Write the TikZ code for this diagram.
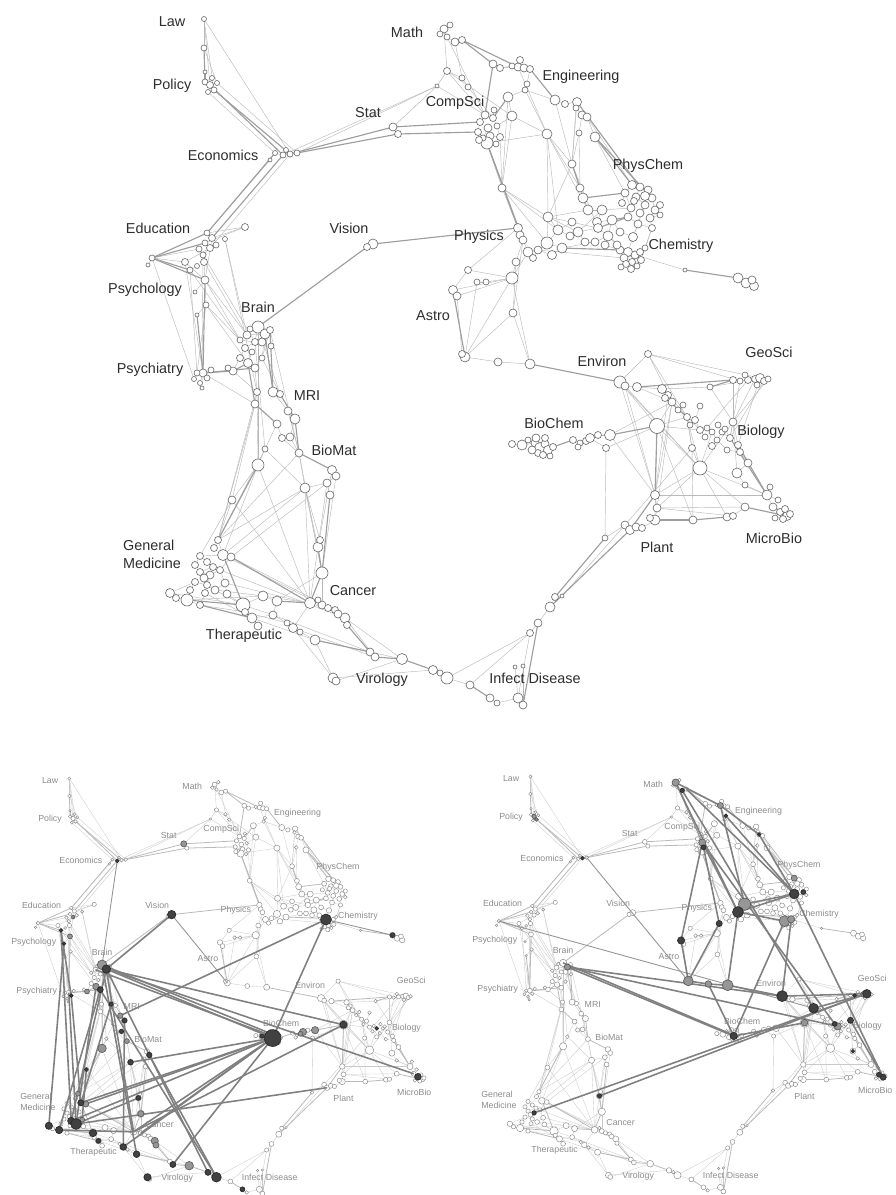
\documentclass[tikz,border=0pt]{standalone}
\usepackage{fontspec}
\setmainfont{Liberation Sans}
\usepackage{xcolor}
\definecolor{linkgray}{RGB}{185,185,185}
\definecolor{bundlegray}{RGB}{158,158,158}
\definecolor{dotgray}{RGB}{105,105,105}
\definecolor{labelgray}{RGB}{45,45,45}
\definecolor{hotgray}{RGB}{65,65,65}
\definecolor{warmgray}{RGB}{150,150,150}
\definecolor{hotlinkgray}{RGB}{128,128,128}

\tikzset{
  lnk/.style={linkgray, line width=0.25pt},
  bnd/.style={bundlegray, line width=0.65pt},
  dot/.style={draw=dotgray, fill=white, line width=0.35pt},
  lbl/.style={text=labelgray, inner sep=0pt, align=left, font=\fontsize{8.2}{10.2}\selectfont},
  hotlnk/.style={hotlinkgray, line width=0.9pt},
  warmlnk/.style={linkgray!80!black, line width=0.5pt},
  hot/.style={draw=black!85, fill=hotgray, line width=0.35pt},
  warm/.style={draw=black!65, fill=warmgray, line width=0.35pt}
}

% nodes of the map: name/x/y/radius (pixels of the upper map)
\newcommand{\nodelist}{%
  law1/204/19/2.5, law2/204/48/3, law3/205/72/2, pol1/205/82/3, pol2/210/85/3.5, pol3/214/90/3, pol4/208/92/2.5, pol5/217/83/2.5,
  pol6/212/78/2.5,
  eco1/275/153/2.5, eco2/283/155/3, eco3/290/154/3, eco4/297/153/3, eco5/270/160/2, eco6/286/150/2.5,
  sta1/393/127/4, sta2/398/134/3.5,
  mat1/444/29/4, mat2/447/37/3, mat3/455/42/4, mat4/462/40/3.5, mat5/447/71/3.5, mat6/437/86/2, mat7/462/78/3, mat8/468/87/3,
  mat9/440/34/3, mat10/450/25/3,
  eng1/493/64/4, eng2/500/68/3.5, eng3/518/67/4, eng4/524/68/4, eng5/530/69/3.5, eng6/527/84/3, eng7/525/90/3, eng8/508/97/5,
  eng9/512/116/5, eng10/555/100/5, eng11/565/104/3.5, eng12/577/102/4.5, eng13/576/108/3, eng14/582/115/4, eng15/587/117/4,
  eng16/595/137/5, eng17/579/133/3, eng18/520/60/3.5, eng19/512/66/3,
  cs1/485/115/4, cs2/493/118/3.5, cs3/480/122/3.5, cs4/488/128/4, cs5/497/126/3, cs6/478/132/3.5, cs7/490/136/4, cs8/500/137/3.5,
  cs9/487/143/6, cs10/483/138/3, cs11/494/110/3, cs12/479/140/3.5, cs13/496/144/3,
  mid1/547/134/5, mid2/572/164/4, mid3/502/188/4, mid4/548/217/5,
  pc1/580/188/4, pc2/583/198/5, pc3/632/185/4.5, pc4/640/187/4, pc5/648/190/4, pc6/625/193/4, pc7/636/197/4, pc8/652/198/4,
  pc9/645/205/4, pc10/631/208/4, pc11/655/210/4, pc12/640/213/4, pc13/628/217/4, pc14/650/218/4, pc15/638/224/4, pc16/652/228/3.5,
  pc17/588/210/5, pc18/602/210/5, pc19/597/222/4.5, pc20/612/220/5, pc21/620/232/4,
  pc23/660/205/3.5, pc24/645/196/4.5, pc25/634/201/3.5, pc26/622/203/3.5, pc27/660/215/3,
  ph1/518/228/4.5, ph2/520/235/4, ph3/523/240/4, ph4/547/243/6, ph5/558/230/5, ph6/570/236/4, ph7/562/248/5, ph8/578/232/5,
  ph9/598/228/4.5, ph10/608/236/5, ph11/595/242/4, ph12/528/252/5, ph13/538/250/4, ph14/533/258/3.5, ph15/512/278/6, ph16/516/262/4,
  ph17/585/242/4, ph18/605/245/4, ph19/552/255/4.5, ph20/572/222/4,
  ch1/620/250/4, ch2/628/252/4.5, ch3/635/255/4, ch4/624/258/4, ch5/632/262/3.5, ch6/640/252/3.5, ch7/637/266/3, ch8/645/248/3,
  ch9/633/237/4.5, ch10/617/245/4, ch11/626/264/3.5, ch12/641/260/3.5, ch13/621/267/3, ch14/631/269/3.5,
  chx/685/270/2, chf1/738/278/5, chf2/746/283/5, chf3/754/286/4.5, chf4/752/280/4,
  ast1/453/290/4.5, ast2/457/296/4, ast3/477/282/3, ast4/486/282/3, ast5/468/270/3.5, ast6/513/313/4, ast7/465/357/5,
  ast8/462/354/3.5, ast9/498/362/4, ast10/530/364/5,
  vis1/373/244/5, vis2/367/247/3.5,
  edu1/207/233/3, edu2/212/238/3.5, edu3/205/243/3, edu4/210/248/3.5, edu5/245/227/3.5, edu6/225/239/2.5, edu7/203/255/3, edu8/204/262/3.5,
  edu9/199/249/3, edu10/216/245/3,
  psy1/152/258/3, psy2/148/265/2, psy3/185/262/3.5, psy4/190/270/3, psy5/197/266/2.5, psy6/205/280/4, psy7/195/292/2, psy8/206/305/3, psy9/197/315/2,
  br1/258/327/6, br2/265/334/5, br3/270/330/3.5, br4/247/335/4, br5/240/340/3, br6/255/342/3.5, br7/245/348/3.5, br8/252/352/3,
  br9/248/363/4.5, br10/255/368/4, br11/262/358/3, br12/262/342/4, br13/250/329/3, br14/240/358/3.5, br15/271/346/3,
  pst1/203/373/4, pst2/197/373/3, pst3/207/378/3, pst4/200/383/2.5, pst5/233/371/4, pst6/228/368/3, pst7/202/388/2,
  pst8/211/370/3, pst9/194/379/2.5,
  mri1/273/392/5, mri2/280/394/3.5, mri3/257/392/3.5, mri4/255/404/4, mri5/288/411/4, mri6/295/419/5, mri7/277/424/4, mri8/290/437/4, mri9/282/438/3.5,
  bm1/299/453/4, bm2/265/449/3, bm3/258/465/6, bm4/332/470/4.5, bm5/336/476/4, bm6/327/483/4, bm7/330/495/4, bm8/305/488/5,
  bm9/232/500/4, bm10/318/547/5, bm11/320/540/3.5, bm12/322/573/6,
  gm1/218/540/3.5, gm2/223/555/5.5, gm3/231/557/4, gm4/200/556/3.5, gm5/207/562/3.5, gm6/213/567/3.5, gm7/200/572/3.5, gm8/210/575/4,
  gm9/220/570/3.5, gm10/195/582/3.5, gm11/207/585/3.5, gm12/215/590/4, gm13/225/583/4, gm14/205/593/3.5, gm15/170/593/4.5,
  gm16/176/598/3.5, gm17/187/600/6, gm18/200/605/3.5, gm19/195/565/3.5, gm20/214/548/3.5, gm21/204/578/4, gm22/190/590/3.5, gm23/227/594/4,
  th1/243/605/7, th2/263/596/5, th3/277/601/5, th4/252/618/5, th5/273/615/4, th6/293/628/4.5, th7/315/640/5, th8/287/623/3, th9/245/612/3.5,
  th10/258/626/4, th11/300/632/3,
  ca1/310/603/5.5, ca2/322/605/4, ca3/328/608/3.5, ca4/335/610/3.5, ca5/345/618/5, ca6/347/625/3.5, ca7/338/614/4, ca8/318/600/3,
  vir1/370/652/4, vir2/375/657/4, vir3/402/659/5.5, vir4/433/670/4.5, vir5/440/673/3, vir6/447/678/6, vir7/333/678/5, vir8/336/681/4,
  inf1/470/685/4, inf2/490/698/4, inf3/497/703/3, inf4/518/698/5, inf5/523/705/4, inf6/515/667/2, inf7/523/666/2, inf8/530/633/3.5,
  inf9/538/623/4, inf10/550/607/5, inf11/555/597/3.5, inf12/562/596/2,
  pl1/605/538/3, pl2/625/525/4, pl3/630/530/4.5, pl4/636/527/4, pl5/642/528/3.5, pl6/655/520/5, pl7/657/508/4, pl8/655/495/4.5, pl9/650/518/3.5,
  mb1/693/520/4, mb2/727/517/4, mb3/733/516/3.5, mb4/745/507/4, mb5/767/495/5, mb6/773/507/4, mb7/780/512/3.5, mb8/787/516/4.5,
  mb9/783/519/3.5, mb10/790/514/3.5, mb11/775/518/3, mb12/770/487/3, mb13/785/509/3.5, mb14/778/500/3,
  bio1/657/426/7.5, bio2/672/402/4, bio3/668/395/3.5, bio4/687/417/3.5, bio5/690/425/3, bio6/695/420/3.5, bio7/700/430/3.5,
  bio8/707/428/3, bio9/712/432/3, bio10/717/440/3, bio11/722/432/3, bio12/730/438/3.5, bio13/733/422/4, bio14/738/445/3.5,
  bio15/727/450/3, bio16/692/448/3.5, bio17/700/468/7, bio18/737/473/5, bio19/748/463/4, bio20/745/485/3, bio21/740/452/3.5, bio22/678/410/3,
  bio23/705/437/3, bio24/718/425/3, bio25/700/406/3, bio26/712/446/3.5, bio27/725/429/3, bio28/683/405/3,
  env1/620/382/6, env2/625/386/4, env3/637/387/4.5, env4/662/389/4.5, env5/665/398/3.5, env6/648/354/3.5, env7/710/387/3,
  geo1/733/380/3.5, geo2/740/381/3, geo3/748/380/3.5, geo4/755/379/3.5, geo5/760/378/4.5, geo6/764/381/3.5, geo7/768/379/3,
  geo8/745/375/3, geo9/757/385/3,
  bc1/512/444/3.5, bc2/522/445/5, bc3/535/443/4, bc4/540/448/5.5, bc5/545/444/4, bc6/548/450/4.5, bc7/538/453/3.5, bc8/543/455/3.5,
  bc9/553/447/3.5, bc10/573/440/3.5, bc11/580/443/3, bc12/586/441/3.5, bc13/590/438/4.5, bc14/598/435/3.5, bc15/610/435/5.5,
  bc16/606/448/3.5, bc17/578/447/3, bc18/536/438/4, bc19/545/438/3.5, bc20/532/450/4, bc21/550/456/3, bc22/528/440/3}

% single links
\newcommand{\linklist}{%
  law1/law2, law2/law3, law1/pol2, law1/pol3, law2/pol5, law1/eco3, pol1/pol2, pol2/pol3, pol3/pol4, pol2/pol5, pol4/eco1, pol5/eco4,
  pol6/pol1, eco6/eco2,
  eco1/eco2, eco2/eco3, eco3/eco4, eco1/eco5, eco2/mat6, eco4/mat6, sta1/mat6, mat6/mat5, mat6/cs1, eco3/edu4, eco5/edu1,
  edu1/edu5, edu2/edu5, edu5/edu3, edu4/psy3, psy1/psy2, psy1/psy3, psy3/psy6, edu2/psy6, edu4/edu7, edu7/edu8, edu8/psy6,
  psy6/psy8, psy8/psy9, psy8/pst2, edu7/pst7, psy4/br5, psy6/br4, edu6/br4, psy5/psy4, psy7/psy6, psy8/br5, psy8/br9,
  pst5/br7, pst2/pst1, pst3/pst1, pst4/pst1, pst6/pst5, edu6/mri3, edu9/edu7, edu10/edu4, pst8/pst1, pst9/pst2,
  psy3/pst1, psy4/pst2, psy1/pst9, edu7/br6, edu8/br4, psy6/br7, psy1/edu9,
  br1/br2, br1/br3, br2/br4, br4/br5, br5/br6, br6/br7, br7/br8, br8/br9, br9/br10, br10/br11, br11/br2, br1/br6, br3/br11,
  br10/mri3, pst5/mri3, pst1/mri4, br11/mri2, br3/bm1, br1/mri2, br12/br2, br13/br1, br14/br9, br15/br3,
  mri1/mri2, mri1/mri5, mri3/mri4, mri5/mri6, mri6/mri8, mri7/mri9, mri8/bm1, mri9/bm1, mri7/bm2, mri5/bm1,
  bm1/bm8, bm2/bm3, bm3/bm9, bm9/gm1, bm4/bm5, bm5/bm6, bm6/bm7, bm8/bm10, bm8/bm11, bm11/bm10, bm8/gm2, bm6/gm3, bm2/bm8,
  mri4/bm9, mri3/gm1, bm8/ca1, bm6/bm8, br1/bm3, br6/bm2, mri3/bm3, bm2/gm1, bm9/gm4, bm3/gm2, mri4/gm1, bm4/bm10, bm5/bm12,
  bm1/bm12, bm8/bm12, bm6/ca1, bm3/ca1, bm9/ca1, bm1/gm1, bm8/gm1,
  gm1/gm2, gm2/gm3, gm2/gm4, gm4/gm5, gm5/gm6, gm6/gm7, gm7/gm8, gm8/gm9, gm9/gm3, gm8/gm11, gm11/gm12, gm12/gm13, gm13/gm9,
  gm10/gm11, gm11/gm14, gm14/gm18, gm15/gm16, gm16/gm17, gm17/gm18, gm15/gm10, gm12/th1, gm2/ca2, gm13/ca3, gm3/ca4, gm9/ca5,
  gm19/gm4, gm20/gm1, gm21/gm8, gm22/gm10, gm23/gm13, gm23/th1, gm15/th1, gm17/th2, gm14/th4, gm12/th2, gm18/th9,
  th1/th2, th2/th3, th1/th4, th4/th5, th5/th8, th8/th6, th6/th7, th9/th4, th3/th5, ca1/th6, bm12/ca2, bm12/th3, th7/vir7, th6/vir7,
  th10/th4, th11/th6, th2/ca1, th4/th7, th1/th5, th9/th8, th5/vir1, th6/vir2, th7/vir3, ca5/vir3,
  vir7/vir8, vir8/vir3, vir7/vir4, ca1/ca2, ca2/ca3, ca3/ca4, ca4/ca5, ca5/ca6, ca5/vir2, vir1/vir2, vir4/vir5, vir5/vir6,
  ca7/ca4, ca8/ca1,
  vir6/inf1, inf2/inf3, inf3/inf4, inf4/inf5, vir6/inf8, inf1/inf8, inf4/inf8, inf8/inf9, inf9/inf10, inf10/inf11, inf12/pl2,
  inf6/inf4, inf7/inf5,
  pl1/pl2, pl2/pl3, pl3/pl4, pl4/pl5, pl5/pl6, pl6/pl9, pl8/pl7, pl7/pl6, mb2/mb3, mb3/mb4, mb5/mb6, mb6/mb7, mb7/mb8, mb8/mb9,
  mb9/mb10, mb10/mb6, mb11/mb8, mb12/mb5, mb13/mb7, mb14/mb5,
  pl8/bio2, pl8/bio17, pl7/bio17, pl2/bio16, bio17/mb4, bio17/mb2, bio17/bio16, bio16/bio4, pl8/mb5, pl7/mb4, bio17/bio13,
  pl8/bio3, pl7/mb3, bio17/bio9,
  bio1/bio2, bio2/bio3, bio3/bio22, bio22/bio4, bio4/bio5, bio5/bio6, bio6/bio7, bio7/bio8, bio8/bio9, bio9/bio10, bio10/bio11,
  bio11/bio12, bio12/bio13, bio13/bio14, bio14/bio21, bio21/bio15, bio15/bio10, bio21/bio19, bio19/bio18, bio18/bio20, bio20/mb5,
  bio4/bio16, bio1/bio7, bio1/bio17, bio23/bio7, bio24/bio11, bio25/bio6, bio26/bio10, bio27/bio12, bio28/bio22,
  env1/bio17, env2/pl8, env1/pl8, env6/bio4, env7/bio13, env7/geo4, geo2/bio12, bio1/pl6, bio1/mb1, bio16/mb1, bio17/mb5,
  bio2/pl7, bio13/bio18, geo5/bio14, bio4/bio17, bc15/pl8, bio1/bio4,
  env1/env2, env2/env3, env3/env4, env4/env5, env4/env7, env6/geo2, env6/bio2, env6/env1, geo1/geo2, geo2/geo3, geo3/geo4,
  geo4/geo5, geo5/geo6, geo6/geo7, geo1/bio13, geo4/bio13, geo7/bio13, env1/bio1, env3/bio2, env4/bio7, env2/bio17, geo3/bio8,
  env6/geo5, geo6/bio12, geo8/geo3, geo9/geo5,
  ast10/ast9, ast9/ast7, ast7/ast8, ast8/ast2, ast7/ast3, ast7/ph15, ast2/ph15, ast6/ast10, ast6/ph3, ast1/ast5, ast5/ph15,
  ast3/ast4, ast4/ph15, ast1/ast2, ast1/ph15, ast5/ph1, ast6/ast7, ast6/ph16, ast10/ph15,
  bc1/bc2, bc2/bc3, bc3/bc4, bc4/bc5, bc5/bc6, bc6/bc7, bc7/bc8, bc8/bc9, bc10/bc11, bc11/bc12, bc12/bc13, bc13/bc14, bc14/bc15,
  bc16/bio1, bc16/pl1, bc13/bc16, bc17/bc11, bc15/bio2, bc18/bc3, bc19/bc5, bc20/bc4, bc21/bc8, bc22/bc2,
  ph1/ph2, ph2/ph3, ph3/ph12, ph12/ph13, ph13/ph4, ph4/ph5, ph5/ph6, ph6/ph8, ph8/ph9, ph9/ph10, ph10/ph11, ph11/ph7, ph7/ph4,
  ph3/ph16, ph16/ph15, ph12/ph15, ph14/ph13, cs9/mid3, mid3/ph1, ph4/mid4, mid4/pc17, pc17/pc1, pc1/pc2, pc2/pc17, pc17/pc18,
  pc18/pc19, pc19/pc20, pc20/pc21, pc21/ch9, ph10/pc20, ph8/pc18, ph10/ch2, ph13/ch4, mid3/ph5, mid4/ph8,
  ph17/ph8, ph18/ph10, ph19/ph7, ph20/ph5, ph17/ph11, ph18/ch1, ph19/ph13,
  pc3/pc4, pc4/pc5, pc5/pc8, pc8/pc11, pc11/pc14, pc14/pc16, pc16/pc15, pc15/pc13, pc13/pc10, pc10/pc6, pc6/pc3, pc7/pc9,
  pc9/pc12, pc12/pc15, pc18/pc10, pc9/ch9, pc16/ch8, pc15/ch9, ch9/ch2, pc7/pc10, pc4/pc7,
  pc23/pc11, pc24/pc5, pc25/pc7, pc26/pc6, pc27/pc14, pc24/pc9,
  ch1/ch2, ch2/ch3, ch3/ch4, ch4/ch5, ch5/ch7, ch7/ch6, ch6/ch8, ch3/chx, chf1/chf2, chf2/chf3, chf3/chf4, chf4/chf1,
  ch10/ch1, ch11/ch4, ch12/ch3, ch13/ch11, ch14/ch5, ch10/ph10, ch12/pc16,
  mat1/mat2, mat2/mat3, mat3/mat4, mat1/mat5, mat3/mat7, mat7/mat8, mat5/mat7, mat9/mat1, mat10/mat1,
  eng1/eng2, eng2/eng3, eng3/eng4, eng4/eng5, eng18/eng3, eng19/eng2,
  eng5/eng6, eng6/eng7, eng7/eng8, eng10/eng11, eng11/eng12, eng12/eng13, eng13/eng14, eng14/eng15, eng15/eng16, eng15/pc3,
  eng14/eng17, eng17/mid2, eng13/mid2, mid1/eng7, mid1/mid2, mid1/pc1, mid1/mid4, eng9/cs5, eng8/eng9, mat2/cs1, mat8/cs2,
  eng7/eng10, eng9/mid1, cs1/cs2, cs2/cs5, cs5/cs8, cs8/cs7, cs7/cs9, cs9/cs6, cs6/cs3, cs3/cs1, cs4/cs10, cs10/cs7, cs8/mid3,
  cs11/cs2, cs12/cs6, cs13/cs9,
  mid3/ph4, mid1/ph5, mat5/cs1, eng3/mid1, mid2/mid4, mat5/eng9, eng9/mid3, eng8/mid3, cs9/mid1, mid1/pc17, mid2/pc17,
  eng16/pc6, eng17/pc1, mid4/ph5, mid4/ph9, mid2/ph9, mid3/mid4, eng10/mid2, eng12/mid2}

% bundles of parallel links
\newcommand{\bundlelist}{%
  law3/pol1, law2/pol1, pol2/eco2, pol3/eco3, eco3/sta1, eco4/sta2, sta1/cs3, sta2/cs6, eco2/edu2, eco1/edu1, edu1/psy1,
  edu3/psy1, psy1/psy4, psy1/psy6, psy9/pst1, psy6/pst1, vis2/br1, vis1/ph1, pst5/br9, pst1/pst5, pst1/br10, br2/mri1,
  br3/mri1, mri4/mri7, mri2/mri6, bm1/bm4, bm3/gm1, bm10/bm12, bm12/ca1, bm7/bm12, gm17/th1, gm18/th4, th3/ca1, gm3/ca1,
  th7/vir1, ca6/vir1, vir2/vir3, vir3/vir4, inf1/inf2, inf5/inf9, inf11/pl1, inf10/pl3, pl3/pl8, pl6/mb1, mb1/mb2, mb4/mb8,
  pl8/bio1, bio14/mb5, bio12/mb5, env7/geo1, env3/geo1, env5/bio4, env1/ast10, ast7/ast1, bc9/bc10, bc15/bio1, ph1/cs9,
  ph7/ch1, ph9/pc13, pc2/pc6, pc20/pc13, chx/chf1, mat4/eng1, eng8/cs2, mat4/eng3, eng5/eng10, eng16/pc3, mid2/pc1,
  eng1/cs1, cs9/ph3, eng16/pc8, eng12/pc4, mri6/bm1, gm2/th1, br9/mri4}

% one copy of the map with its labels
\newcommand{\sciencemap}{%
  \foreach \nm/\px/\py/\rad in \nodelist {\coordinate (\nm) at (\px,\py);}
  \foreach \a/\b in \linklist {\draw[lnk] (\a) -- (\b);}
  \foreach \a/\b in \bundlelist {\draw[bnd] (\a) -- (\b);}
  \foreach \nm/\px/\py/\rad in \nodelist {\draw[dot] (\nm) circle (\rad);}
  \node[lbl] (lab-law) at (172,22) {Law};
  \node[lbl] (lab-policy) at (172,86) {Policy};
  \node[lbl] (lab-economics) at (223,155) {Economics};
  \node[lbl] (lab-stat) at (368,113) {Stat};
  \node[lbl] (lab-math) at (407,32) {Math};
  \node[lbl] (lab-engineering) at (581,77) {Engineering};
  \node[lbl] (lab-compsci) at (455,103) {CompSci};
  \node[lbl] (lab-physchem) at (648,166) {PhysChem};
  \node[lbl] (lab-education) at (158,228) {Education};
  \node[lbl] (lab-vision) at (349,228) {Vision};
  \node[lbl] (lab-physics) at (479,237) {Physics};
  \node[lbl] (lab-chemistry) at (681,246) {Chemistry};
  \node[lbl] (lab-psychology) at (145,290) {Psychology};
  \node[lbl] (lab-brain) at (258,307) {Brain};
  \node[lbl] (lab-astro) at (433,316) {Astro};
  \node[lbl] (lab-psychiatry) at (150,370) {Psychiatry};
  \node[lbl] (lab-mri) at (307,396) {MRI};
  \node[lbl] (lab-environ) at (602,361) {Environ};
  \node[lbl] (lab-geosci) at (769,352) {GeoSci};
  \node[lbl] (lab-biochem) at (554,423) {BioChem};
  \node[lbl] (lab-biology) at (761,432) {Biology};
  \node[lbl] (lab-biomat) at (334,450) {BioMat};
  \node[lbl] (lab-genmed) at (152,554) {General\\Medicine};
  \node[lbl] (lab-plant) at (657,547) {Plant};
  \node[lbl] (lab-microbio) at (774,538) {MicroBio};
  \node[lbl] (lab-cancer) at (353,591) {Cancer};
  \node[lbl] (lab-therapeutic) at (244,636) {Therapeutic};
  \node[lbl] (lab-virology) at (382,680) {Virology};
  \node[lbl] (lab-infect) at (535,678) {Infect Disease};
}

\begin{document}
\begin{tikzpicture}[x=0.02cm, y=-0.02cm]
    \useasboundingbox (0,0) rectangle (895,1195);

    % Full map of science
    \sciencemap

    % Lower left: map with highlighted life science links
    \begin{scope}[shift={(-54,767)}, scale=0.605,
        lnk/.style={linkgray!75, line width=0.2pt},
        bnd/.style={linkgray, line width=0.45pt},
        dot/.style={draw=dotgray!80, fill=white, line width=0.25pt},
        lbl/.style={text=black!45, inner sep=0pt, align=left, font=\fontsize{5}{6.2}\selectfont}]
      \sciencemap
      \foreach \a/\b in {vis1/ast7, eco2/br1, ch2/chf1}
        \draw[warmlnk] (\a) -- (\b);
      \foreach \a/\b in {vis1/br2, ch2/mri5, ch2/bc4, br2/bc4, br1/bc5, br4/bc3, br2/mb6, br2/bio1,
          bc4/gm2, bc4/gm3, bc4/gm11, bc4/ca1, bc4/ca2, bc4/th6, bc4/vir2, bc4/bm8, bio1/ca1, pl3/gm12,
          psy4/gm11, psy7/gm15, pst1/gm12, br2/gm11, br9/gm12, br10/gm17, mri1/gm2, br2/ca1, br10/vir6,
          br1/th7, mri6/th6, bm5/vir6, br2/vir4, gm12/bm10, gm17/ca1, bm9/gm13, psy4/pst3, pst3/gm2}
        \draw[hotlnk] (\a) -- (\b);
      \foreach \nm/\rad in {br1/8, br9/5.5, mri5/4.5, bm1/4, bm3/7, bm12/5, ca5/6, vir3/7, sta1/5, bc13/6,
          bc15/6, bc12/4, gm3/5, gm1/4, edu4/3, psy6/4, pst5/4, ca6/5, gm13/4}
        \filldraw[warm] (\nm) circle (\rad);
      \foreach \nm/\rad in {vis1/7, ch2/9, bc4/14, bio1/6, br2/7, br10/5, psy4/3, psy7/3, pst3/3, mri1/3.5,
          mri6/4, mri8/3.5, bm5/4.5, bm8/4.5, bm9/3, bm10/4, gm2/5, gm11/6, gm12/9, gm15/6, gm17/6, th1/6,
          th4/4, th6/5.5, th7/5.5, vir2/5, vir4/5, vir6/8, vir7/6, inf2/4, mb7/5.5, chf1/4, eco2/3, bio9/3, bc2/3.5}
        \filldraw[hot] (\nm) circle (\rad);
    \end{scope}

    % Lower right: map with highlighted physical science links
    \begin{scope}[shift={(407,765)}, scale=0.605,
        lnk/.style={linkgray!75, line width=0.2pt},
        bnd/.style={linkgray, line width=0.45pt},
        dot/.style={draw=dotgray!80, fill=white, line width=0.25pt},
        lbl/.style={text=black!45, inner sep=0pt, align=left, font=\fontsize{5}{6.2}\selectfont}]
      \sciencemap
      \foreach \a/\b in {eco4/ast7, psy1/bio2, mat1/cs4}
        \draw[warmlnk] (\a) -- (\b);
      \foreach \a/\b in {br2/bc4, br1/bc6, br2/bio9, br2/env1, gm8/geo5, bm10/geo4, ast1/ast7, ast7/ph16,
          ast7/ast9, ast9/ast10, ast10/env1, env1/geo5, ast10/ph4, ph4/pc12, ph5/pc12, ph4/ch4, ch4/bc4,
          mat1/ph4, mat3/bio2, mat4/pc12, cs4/bio8, pc12/mb8, eng3/ph5, eng6/pc12, cs4/ph4, cs4/ast1,
          eng14/pc12, bio2/geo5, bio13/mb8, bio1/bc4, ast9/bc4, eng3/eng14, mat1/eng3, ch3/env1, cs7/ph16}
        \draw[hotlnk] (\a) -- (\b);
      \foreach \nm/\rad in {mat1/6, eng3/5, cs4/6, pc4/5, ph5/10, ch4/9, ch3/6, ast7/8, ast9/5.5, ast10/9,
          geo4/5, bio1/5.5, bio9/6, br2/5, pol2/3.5, pol3/3}
        \filldraw[warm] (\nm) circle (\rad);
      \foreach \nm/\rad in {mat3/3.5, eng6/3, cs7/4, eng14/3, pc12/8, pc11/4, ph4/9, ph16/5, ast1/6, env1/9,
          geo5/7, geo2/3, bio2/8, bio8/4, bio13/5, bio18/3, mb8/5, mb7/4, bc4/6, gm8/3.5, bm10/3.5, eco3/3}
        \filldraw[hot] (\nm) circle (\rad);
    \end{scope}
\end{tikzpicture}
\end{document}
